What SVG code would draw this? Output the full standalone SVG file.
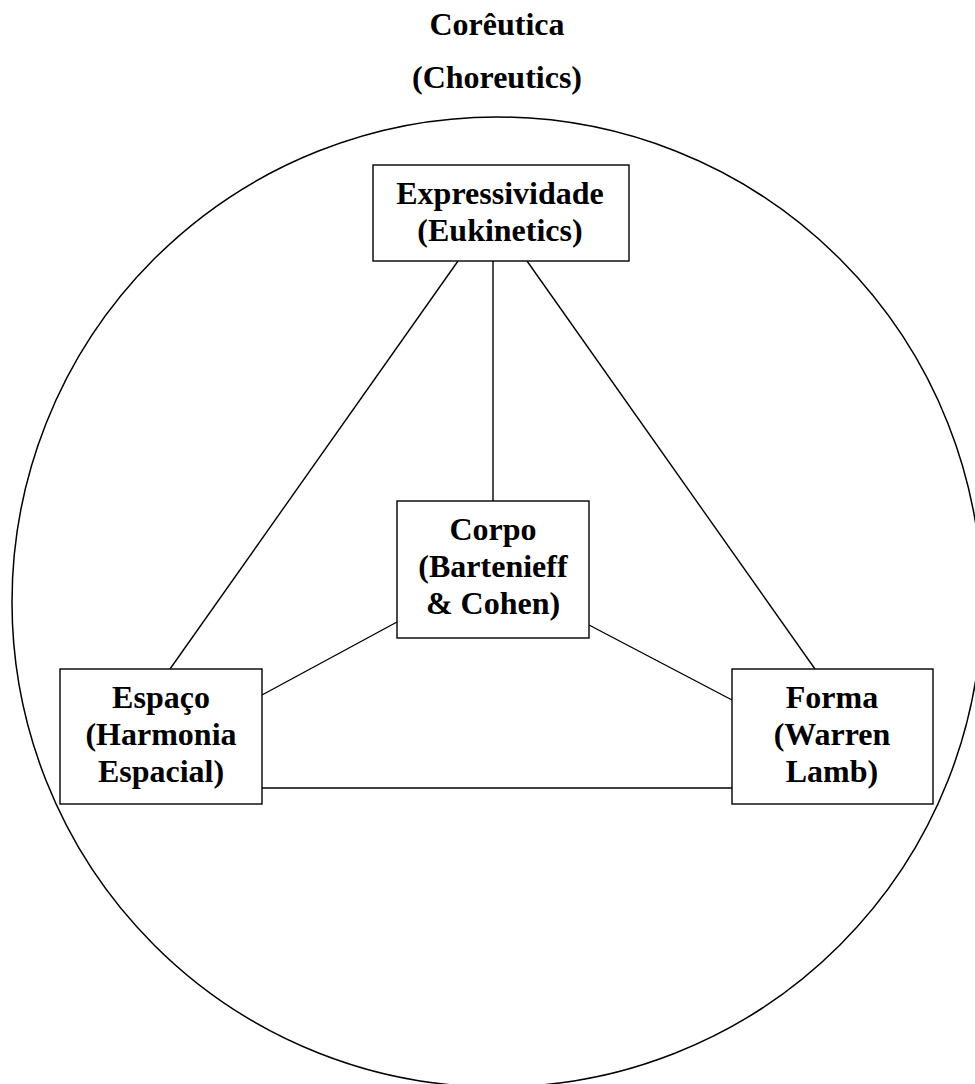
<svg xmlns="http://www.w3.org/2000/svg" width="975" height="1084" viewBox="0 0 975 1084">
<style>
.t{font-family:"Liberation Serif","Times New Roman",serif;font-weight:bold;font-size:32px;fill:#000;text-anchor:middle}
.box{fill:#fff;stroke:#000;stroke-width:1.4}
.c{stroke:#000;stroke-width:1.4;fill:none}
</style>
<rect width="975" height="1084" fill="#fff"/>
<g id="title">
<text class="t" x="497" y="35">Corêutica</text>
<text class="t" x="497" y="88">(Choreutics)</text>
</g>
<circle id="circle" cx="497" cy="602" r="485" fill="none" stroke="#000" stroke-width="1.5"/>
<g id="connectors">
<line class="c" x1="458" y1="261" x2="170" y2="669"/>
<line class="c" x1="527" y1="261" x2="815" y2="669"/>
<line class="c" x1="493" y1="261" x2="493" y2="501"/>
<line class="c" x1="397" y1="622" x2="262" y2="695"/>
<line class="c" x1="589" y1="625" x2="732" y2="700"/>
<line class="c" x1="262" y1="788" x2="732" y2="788"/>
</g>
<g id="expressividade">
<rect class="box" x="373" y="165" width="256" height="96"/>
<text class="t" x="500" y="204">Expressividade</text>
<text class="t" x="500" y="241">(Eukinetics)</text>
</g>
<g id="corpo">
<rect class="box" x="397" y="501" width="192" height="137"/>
<text class="t" x="493" y="540">Corpo</text>
<text class="t" x="493" y="577">(Bartenieff</text>
<text class="t" x="493" y="614">&amp; Cohen)</text>
</g>
<g id="espaco">
<rect class="box" x="60" y="669" width="202" height="135"/>
<text class="t" x="161" y="708">Espaço</text>
<text class="t" x="161" y="745">(Harmonia</text>
<text class="t" x="161" y="782">Espacial)</text>
</g>
<g id="forma">
<rect class="box" x="732" y="669" width="201" height="135"/>
<text class="t" x="832" y="708">Forma</text>
<text class="t" x="832" y="745">(Warren</text>
<text class="t" x="832" y="782">Lamb)</text>
</g>
</svg>
